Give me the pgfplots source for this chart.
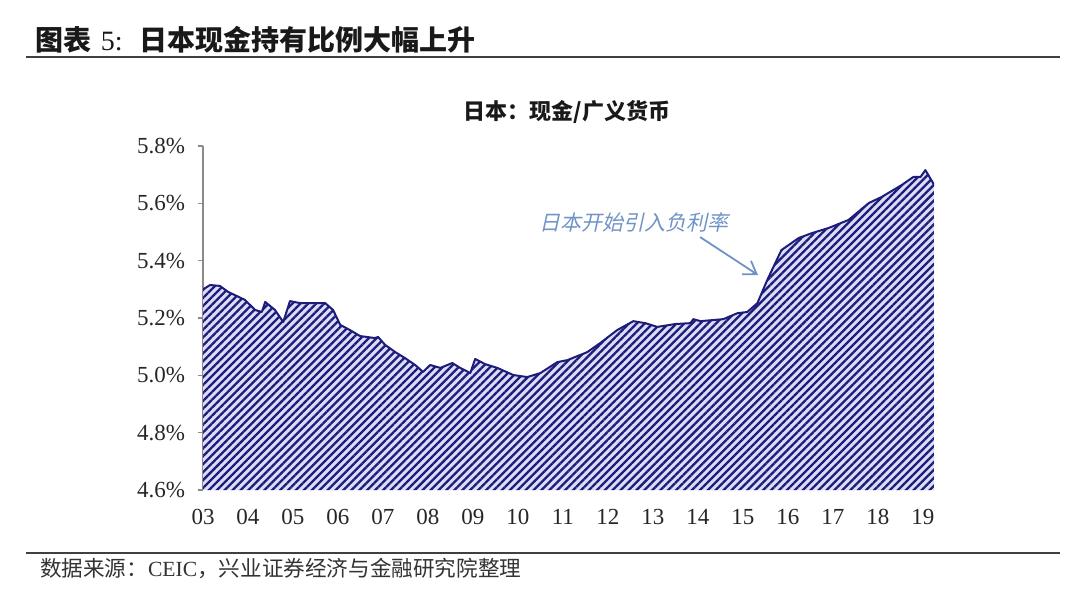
\documentclass[border=0pt]{standalone}
\usepackage{fontspec}
\setmainfont{Liberation Serif}
\newfontfamily\cjk{Noto Sans CJK SC}
\newfontfamily\cjkit[FakeSlant=0.22]{Noto Sans CJK SC}
\usepackage{pgfplots}
\usepackage{pgfplotstable}
\pgfplotsset{compat=1.18}
\usetikzlibrary{patterns.meta,arrows.meta}
\definecolor{navy}{HTML}{1C1C7A}
\definecolor{lav}{HTML}{DCDCF6}
\definecolor{annot}{HTML}{6F93C6}
\definecolor{axgray}{HTML}{8A8A8A}
\pgfplotstableread{
m v
0 5.300
1.9 5.315
4.5 5.312
6.7 5.291
8.5 5.280
11.2 5.263
13.9 5.228
15.7 5.221
16.6 5.256
19.2 5.228
21.4 5.186
23.2 5.259
25.9 5.252
28.6 5.252
32.6 5.252
34.7 5.228
36.6 5.176
39.2 5.158
41.9 5.137
45.9 5.130
46.7 5.134
48.6 5.106
51.3 5.081
53.9 5.060
56.6 5.036
58.7 5.012
60.6 5.036
63.3 5.026
66.5 5.043
68.6 5.026
71.3 5.008
72.6 5.057
75.3 5.039
78.5 5.026
82.8 5.001
86.5 4.994
90.0 5.008
94.5 5.046
97.2 5.053
102.5 5.081
106.0 5.113
110.5 5.158
114.8 5.189
118.0 5.182
121.2 5.169
126.0 5.179
130.0 5.182
130.8 5.196
132.7 5.189
138.8 5.196
142.6 5.217
145.2 5.221
147.9 5.252
150.5 5.332
154.3 5.437
158.9 5.479
162.4 5.496
166.9 5.514
172.2 5.542
177.6 5.601
181.0 5.622
186.4 5.664
189.5 5.692
191.4 5.692
192.7 5.716
194.6 5.674
195.1 5.660
}\cashdata
\begin{document}
\begin{tikzpicture}
\path[use as bounding box] (0pt,0pt) rectangle (540pt,298pt);
\begin{axis}[
  at={(101.5pt,53pt)}, anchor=south west,
  scale only axis, width=365.5pt, height=172pt,
  xmin=0, xmax=195, ymin=4.6, ymax=5.8,
  axis lines*=left, axis line style={-},
  x axis line style={draw=none},
  y axis line style={draw=axgray, line width=0.7pt},
  xtick={0,12,24,36,48,60,72,84,96,108,120,132,144,156,168,180,192},
  xticklabels={03,04,05,06,07,08,09,10,11,12,13,14,15,16,17,18,19},
  xtick style={draw=none},
  ytick={4.6,4.8,5.0,5.2,5.4,5.6,5.8},
  yticklabels={4.6\%,4.8\%,5.0\%,5.2\%,5.4\%,5.6\%,5.8\%},
  ytick style={draw=axgray, line width=0.7pt},
  tick align=outside, major tick length=2.5pt,
  tick label style={font=\fontsize{11.5}{13}\selectfont, text=black!85},
  yticklabel style={xshift=-3pt},
  xticklabel style={yshift=-3.5pt},
]
\addplot[draw=none, fill=lav,
  postaction={pattern={Lines[angle=45,distance=2.8pt,line width=1.15pt]}, pattern color=navy}]
  table[x=m,y=v] {\cashdata} \closedcycle;
\addplot[draw=navy, line width=1pt, line join=round] table[x=m,y=v] {\cashdata};
\end{axis}
\node[anchor=west, font=\cjk\bfseries\fontsize{14}{16}\selectfont, text=black!90] at (14pt,278pt)
  {图表\hspace{0.35em}{\rmfamily\mdseries 5:}\hspace{0.6em}日本现金持有比例大幅上升};
\draw[line width=0.8pt, black!75] (13pt,269.5pt) -- (530pt,269.5pt);
\node[font=\cjk\bfseries\fontsize{11}{13}\selectfont, text=black!90] at (283.5pt,242pt) {日本：现金/广义货币};
\node[font=\cjkit\fontsize{10.5}{12}\selectfont, text=annot] at (317pt,187pt) {日本开始引入负利率};
\draw[annot, line width=0.9pt, -{Straight Barb[length=6pt,width=8pt]}] (350pt,179.5pt) -- (379pt,160.5pt);
\draw[line width=0.8pt, black!75] (13pt,21.5pt) -- (530pt,21.5pt);
\node[anchor=west, font=\cjk\fontsize{10.8}{12}\selectfont, text=black!80] at (16.5pt,14pt)
  {数据来源：{\rmfamily CEIC}，兴业证券经济与金融研究院整理};
\end{tikzpicture}
\end{document}
